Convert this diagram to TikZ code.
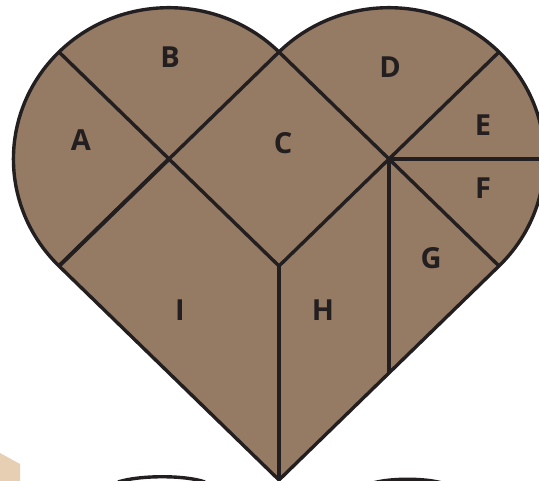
\documentclass[tikz,border=0pt]{standalone}
\usepackage{fontspec}
\setmainfont{Open Sans}
\definecolor{heartfill}{HTML}{957A64}
\definecolor{ink}{HTML}{231F20}
\definecolor{beigebit}{HTML}{E6CFB3}
\begin{document}
\begin{tikzpicture}[x=1pt,y=-1pt,line join=round,
  lab/.style={font=\bfseries\fontsize{29}{29}\selectfont, text=ink, inner sep=0pt},
  edge/.style={draw=ink, line width=3.4pt}]
\useasboundingbox (0,0) rectangle (539,481);
\clip (0,0) rectangle (539,481);
% bits of neighbouring figures
\fill[beigebit] (0,453) -- (20,464) -- (20,481) -- (0,481) -- cycle;
\draw[ink, line width=3.4pt] (118,482) .. controls (140,475) and (185,475) .. (205,482);
\draw[ink, line width=3.4pt] (373,483) .. controls (390,478) and (425,478) .. (442,483);
\begin{scope}[shift={(279,266)}, x=220pt, y=214pt]
  \coordinate (O) at (0,0);
  \coordinate (L) at (-1,0);
  \coordinate (T) at (0,1);
  \coordinate (R) at (1,0);
  \coordinate (B) at (0,-1);
  \coordinate (CL) at (-0.5,0.5);
  \coordinate (CR) at (0.5,0.5);
  \coordinate (AB) at (-1,1);
  \coordinate (DE) at (1,1);
  \coordinate (EF) at (1.3,0.5);
  \coordinate (GH) at (0.5,-0.5);
  \path[fill=heartfill] (L) arc[start angle=225,end angle=45,x radius=155.56pt,y radius=151.32pt]
     arc[start angle=135,end angle=-45,x radius=155.56pt,y radius=151.32pt] -- (B) -- cycle;
  \draw[edge] (CL) -- (AB);
  \draw[edge] (L) -- (T) -- (R);
  \draw[edge, line width=4pt] (L) -- (CL);
  \draw[edge] (CL) -- (O) -- (CR);
  \draw[edge, line width=4pt] (O) -- (B);
  \draw[edge] (CR) -- (DE);
  \draw[edge, line width=4pt] (CR) -- (EF);
  \draw[edge] (CR) -- (GH);
  \draw[edge, line join=miter] (L) arc[start angle=225,end angle=45,x radius=155.56pt,y radius=151.32pt]
     arc[start angle=135,end angle=-45,x radius=155.56pt,y radius=151.32pt] -- (B) -- cycle;
\end{scope}
\node[lab] (labA) at (81,140) {A};
\node[lab] (labB) at (170,57) {B};
\node[lab] (labC) at (283,143) {C};
\node[lab] (labD) at (390,67) {D};
\node[lab] (labE) at (483,125) {E};
\node[lab] (labF) at (483,188) {F};
\node[lab] (labG) at (431,258) {G};
\node[lab] (labH) at (323,310) {H};
\node[lab] (labI) at (180,310) {I};
\end{tikzpicture}
\end{document}
